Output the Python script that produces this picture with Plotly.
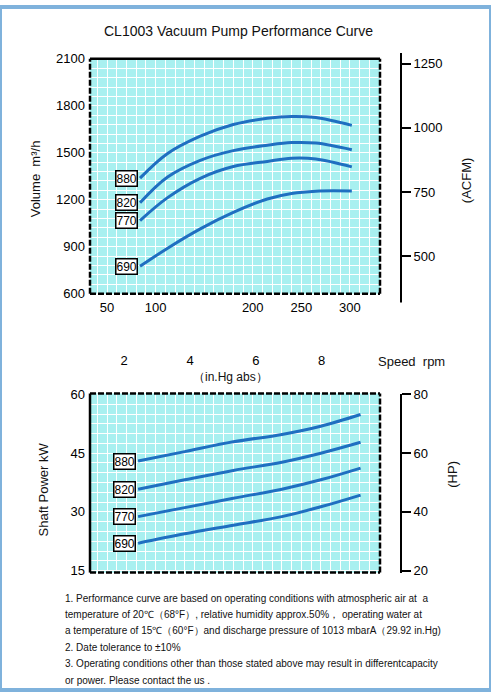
import plotly.graph_objects as go

# ---------------- data ----------------
speeds = ["880", "820", "770", "690"]

# suction pressure (mbar abs) for the volume curves
vol_pressure = [84, 112, 146, 180, 215, 240, 265, 302]
volume_880 = [1338, 1494, 1606, 1681, 1720, 1732, 1725, 1675]
volume_820 = [1181, 1344, 1452, 1514, 1548, 1565, 1562, 1519]
volume_770 = [1067, 1212, 1337, 1412, 1445, 1465, 1460, 1410]
volume_690 = [775, 889, 1014, 1119, 1205, 1240, 1255, 1256]

# suction pressure (mbar abs) for the shaft power curves
pow_pressure = [82, 130, 180, 230, 270, 311]
power_880 = [43.0, 45.4, 47.9, 49.8, 51.9, 54.9]
power_820 = [35.8, 38.2, 40.6, 42.7, 45.0, 47.8]
power_770 = [28.8, 31.1, 33.5, 35.8, 38.2, 41.2]
power_690 = [22.0, 24.4, 26.6, 28.8, 31.3, 34.3]

pressure_ticks = [50, 100, 200, 250, 300]          # mbar abs
inhg_ticks = [2, 4, 6, 8]                          # in.Hg abs
volume_ticks = [600, 900, 1200, 1500, 1800, 2100]  # m3/h
acfm_ticks = [500, 750, 1000, 1250]
power_ticks = [15, 30, 45, 60]                     # kW
hp_ticks = [20, 40, 60, 80]

title_text = "CL1003 Vacuum Pump Performance Curve"
notes = [
    "1. Performance curve are based on operating conditions with atmospheric air at  a",
    "temperature of 20\u2103\uff0868\u00b0F\uff09, relative humidity approx.50%\uff0c operating water at",
    "a temperature of 15\u2103\uff0860\u00b0F\uff09and discharge pressure of 1013 mbarA\uff0829.92 in.Hg)",
    "2. Date tolerance to \u00b110%",
    "3. Operating conditions other than those stated above may result in differentcapacity",
    "or power. Please contact the us .",
]

INHG_TO_MBAR = 33.8639

# ---------------- style ----------------
W, H = 491, 698
FONT = "Liberation Sans Narrow, Arial Narrow, Liberation Sans, Arial, sans-serif"
CURVE = "#1f6fc1"
BG = "#a8f0f0"
GRID = "#ffffff"

def px_x(p):
    return p / W

def px_y(p):
    return 1 - p / H

X_DOM = [px_x(90), px_x(380)]
TOP_DOM = [px_y(293), px_y(53)]
BOT_DOM = [px_y(578), px_y(395)]
X_RANGE = [32.5, 331]
RIGHT_POS = px_x(401)

fig = go.Figure()

vol_series = [volume_880, volume_820, volume_770, volume_690]
pow_series = [power_880, power_820, power_770, power_690]

for name, ys in zip(speeds, vol_series):
    fig.add_trace(go.Scatter(x=vol_pressure, y=ys, mode="lines", name=name,
                             line=dict(color=CURVE, width=3, shape="spline", smoothing=1.0),
                             xaxis="x", yaxis="y", showlegend=False, hoverinfo="skip"))
for name, ys in zip(speeds, pow_series):
    fig.add_trace(go.Scatter(x=pow_pressure, y=ys, mode="lines", name=name,
                             line=dict(color=CURVE, width=3, shape="spline", smoothing=1.0),
                             xaxis="x2", yaxis="y2", showlegend=False, hoverinfo="skip"))

# invisible helper traces so the secondary axes are drawn
fig.add_trace(go.Scatter(x=[vol_pressure[0]], y=[acfm_ticks[0]], mode="markers", opacity=0,
                         xaxis="x", yaxis="y3", showlegend=False, hoverinfo="skip"))
fig.add_trace(go.Scatter(x=[pow_pressure[0]], y=[hp_ticks[0]], mode="markers", opacity=0,
                         xaxis="x2", yaxis="y4", showlegend=False, hoverinfo="skip"))
fig.add_trace(go.Scatter(x=[inhg_ticks[0] * INHG_TO_MBAR], y=[volume_ticks[0]], mode="markers",
                         opacity=0, xaxis="x3", yaxis="y", showlegend=False, hoverinfo="skip"))

tickfont = dict(family=FONT, size=13, color="black")
grid_minor_x = dict(tickmode="linear", tick0=0, dtick=10, showgrid=True, gridcolor=GRID, gridwidth=1)

fig.update_layout(
    width=W, height=H,
    margin=dict(l=0, r=0, t=0, b=0),
    paper_bgcolor="white",
    plot_bgcolor=BG,
    font=dict(family=FONT, color="black"),
    xaxis=dict(domain=X_DOM, anchor="y", range=X_RANGE, tickmode="array",
               tickvals=pressure_ticks, ticktext=[str(v) for v in pressure_ticks],
               showgrid=True, gridcolor=GRID, gridwidth=1, minor=grid_minor_x,
               ticks="", showline=False, zeroline=False, tickfont=tickfont,
               ticklabelstandoff=4),
    yaxis=dict(domain=TOP_DOM, anchor="x", range=[600, 2100], tickmode="array",
               tickvals=volume_ticks, showgrid=True, gridcolor=GRID, gridwidth=1,
               minor=dict(tickmode="linear", tick0=0, dtick=60, showgrid=True,
                          gridcolor=GRID, gridwidth=1),
               ticks="", showline=False, zeroline=False, tickfont=tickfont,
               ticklabelstandoff=4),
    xaxis2=dict(domain=X_DOM, anchor="y2", range=X_RANGE, tickmode="linear", tick0=0,
                dtick=10, showticklabels=False, showgrid=True, gridcolor=GRID, gridwidth=1,
                ticks="", showline=False, zeroline=False),
    yaxis2=dict(domain=BOT_DOM, anchor="x2", range=[14.5, 60.25], tickmode="array",
                tickvals=power_ticks, showgrid=True, gridcolor=GRID, gridwidth=1,
                minor=dict(tickmode="linear", tick0=0, dtick=2.5, showgrid=True,
                           gridcolor=GRID, gridwidth=1),
                ticks="", showline=False, zeroline=False, tickfont=tickfont,
                ticklabelstandoff=4),
    yaxis3=dict(overlaying="y", anchor="free", position=RIGHT_POS, side="right",
                range=[353.8, 1269], tickmode="array", tickvals=acfm_ticks,
                ticks="outside", ticklen=9, tickwidth=2, tickcolor="black",
                showline=False, showgrid=False, zeroline=False, tickfont=tickfont),
    yaxis4=dict(overlaying="y2", anchor="free", position=RIGHT_POS, side="right",
                range=[19.33, 80.33], tickmode="array", tickvals=hp_ticks,
                ticks="outside", ticklen=9, tickwidth=2, tickcolor="black",
                showline=True, linecolor="black", linewidth=2,
                showgrid=False, zeroline=False, tickfont=tickfont),
    xaxis3=dict(overlaying="x", anchor="free", position=px_y(352), side="bottom",
                range=X_RANGE, tickmode="array",
                tickvals=[v * INHG_TO_MBAR for v in inhg_ticks],
                ticktext=[str(v) for v in inhg_ticks],
                ticks="", showline=False, showgrid=False, zeroline=False, tickfont=tickfont),
)

shapes = []
def border(xref, yref, x0, y0, x1, y1, dash):
    shapes.append(dict(type="line", xref=xref, yref=yref, x0=x0, y0=y0, x1=x1, y1=y1,
                       line=dict(color="black", width=2.5, dash=dash), layer="above"))

DASH = "6px,2px"
# top plot frame
border("x domain", "y domain", 0, 1, 1, 1, "solid")
border("x domain", "y domain", 0, 0, 0, 1, DASH)
border("x domain", "y domain", 0, 0, 1, 0, DASH)
border("x domain", "y domain", 1, 0, 1, 1, DASH)
# bottom plot frame
border("x2 domain", "y2 domain", 0, 1, 1, 1, DASH)
border("x2 domain", "y2 domain", 0, 0, 0, 1, "solid")
border("x2 domain", "y2 domain", 0, 0, 1, 0, DASH)
border("x2 domain", "y2 domain", 1, 0, 1, 1, DASH)
# ACFM axis line (slightly longer than the plot)
shapes.append(dict(type="line", xref="paper", yref="paper", x0=RIGHT_POS, x1=RIGHT_POS,
                   y0=px_y(302), y1=px_y(47), line=dict(color="black", width=2)))
# image frame
shapes.append(dict(type="rect", xref="paper", yref="paper", x0=0, y0=0, x1=1, y1=1,
                   line=dict(color="#7fb2dc", width=4)))
fig.update_layout(shapes=shapes)

def text_ann(text, x, y, size=13, angle=0, xanchor="center"):
    return dict(text=text, xref="paper", yref="paper", x=px_x(x), y=px_y(y),
                xanchor=xanchor, yanchor="middle", textangle=angle, showarrow=False,
                font=dict(family=FONT, size=size, color="#111"))

ann = [
    text_ann(title_text, 238, 25, size=14),
    text_ann("Volume  m\u00b3/h", 35, 176, angle=-90),
    text_ann("(ACFM)", 466, 177, angle=-90),
    text_ann("Shaft Power kW", 43, 493, angle=-90),
    text_ann("(HP)", 453, 478, angle=-90),
    text_ann("Speed  rpm", 411, 362),
    text_ann("\uff08in.Hg abs\uff09", 230, 378, size=12),
]

label_style = dict(showarrow=False, xanchor="right", yanchor="middle", bgcolor="white",
                   bordercolor="black", borderwidth=1.5, borderpad=0, xshift=-2,
                   font=dict(family=FONT, size=12, color="black"))
for name, ys in zip(speeds, vol_series):
    ann.append(dict(text=name, xref="x", yref="y", x=vol_pressure[0], y=ys[0], **label_style))
for name, ys in zip(speeds, pow_series):
    ann.append(dict(text=name, xref="x2", yref="y2", x=pow_pressure[0], y=ys[0], **label_style))

for i, line in enumerate(notes):
    ann.append(text_ann(line, 63, 604 + i * 16.8, size=10, xanchor="left"))

fig.update_layout(annotations=ann)

fig.write_html("out.html", config={"displayModeBar": False},
               post_script="document.body.style.margin='0';")
